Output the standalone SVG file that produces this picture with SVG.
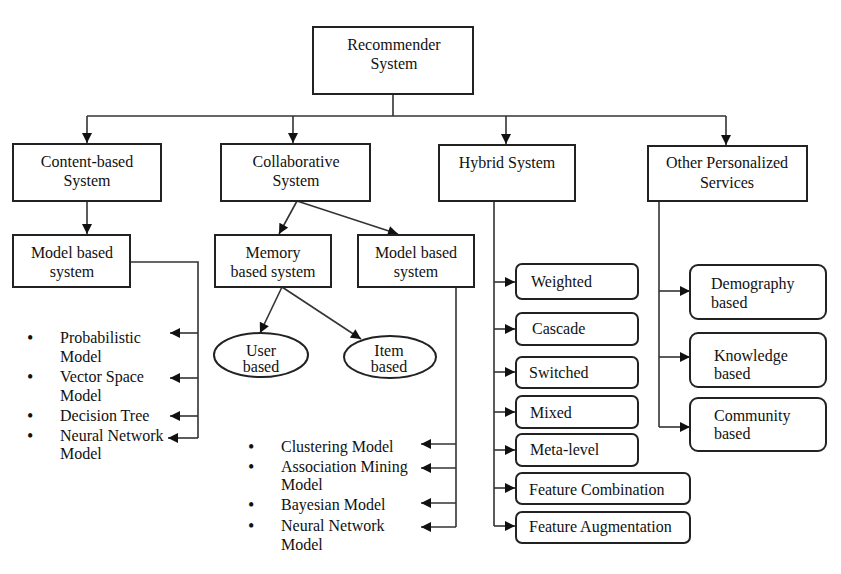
<svg xmlns="http://www.w3.org/2000/svg" width="841" height="574" viewBox="0 0 841 574">
<style>
.box{fill:#fff;stroke:#222;stroke-width:2}
.ln{fill:none;stroke:#333;stroke-width:1.6}
text{font-family:"Liberation Serif","Times New Roman",serif;font-size:16px;fill:#111}
.c{text-anchor:middle}
.b{font-size:18px}
</style>
<defs>
<marker id="ah" viewBox="0 0 10 10" refX="10" refY="5" markerWidth="12" markerHeight="10" markerUnits="userSpaceOnUse" orient="auto">
<path d="M0,0 L10,5 L0,10 z" fill="#111"/>
</marker>
</defs>
<rect width="841" height="574" fill="#fff"/>
<g id="connectors" class="ln">
<path d="M393,94 V116 M87,116 H726"/>
<path d="M87,116 V143" marker-end="url(#ah)"/>
<path d="M293,116 V143" marker-end="url(#ah)"/>
<path d="M506,116 V144" marker-end="url(#ah)"/>
<path d="M726,116 V145" marker-end="url(#ah)"/>
<path d="M87,201 V234" marker-end="url(#ah)"/>
<path d="M297,201 L279,234" marker-end="url(#ah)"/>
<path d="M297,201 L398,234" marker-end="url(#ah)"/>
<path d="M282,287 L260,333" marker-end="url(#ah)"/>
<path d="M282,287 L361,339" marker-end="url(#ah)"/>
<path d="M130,262 H198 V438"/>
<path d="M198,333 H170" marker-end="url(#ah)"/>
<path d="M198,378 H170" marker-end="url(#ah)"/>
<path d="M198,416 H170" marker-end="url(#ah)"/>
<path d="M198,438 H168" marker-end="url(#ah)"/>
<path d="M456,287 V527"/>
<path d="M456,444 H421" marker-end="url(#ah)"/>
<path d="M456,468 H421" marker-end="url(#ah)"/>
<path d="M456,503 H421" marker-end="url(#ah)"/>
<path d="M456,527 H421" marker-end="url(#ah)"/>
<path d="M494,201 V526"/>
<path d="M494,282 H515" marker-end="url(#ah)"/>
<path d="M494,329 H515" marker-end="url(#ah)"/>
<path d="M494,372 H515" marker-end="url(#ah)"/>
<path d="M494,412 H515" marker-end="url(#ah)"/>
<path d="M494,450 H515" marker-end="url(#ah)"/>
<path d="M494,488 H515" marker-end="url(#ah)"/>
<path d="M494,526 H515" marker-end="url(#ah)"/>
<path d="M659,201 V427"/>
<path d="M659,291 H690" marker-end="url(#ah)"/>
<path d="M659,357 H690" marker-end="url(#ah)"/>
<path d="M659,427 H690" marker-end="url(#ah)"/>
</g>
<g id="recommender"><rect class="box" x="313" y="27" width="160" height="67"/><text class="c" x="394" y="50">Recommender</text><text class="c" x="394" y="69">System</text></g>
<g id="content"><rect class="box" x="13" y="144" width="148" height="57"/><text class="c" x="87" y="167">Content-based</text><text class="c" x="87" y="186">System</text></g>
<g id="collab"><rect class="box" x="221" y="144" width="149" height="57"/><text class="c" x="296" y="167">Collaborative</text><text class="c" x="296" y="186">System</text></g>
<g id="hybrid"><rect class="box" x="439" y="145" width="136" height="56"/><text class="c" x="507" y="168">Hybrid System</text></g>
<g id="other"><rect class="box" x="648" y="146" width="159" height="55"/><text class="c" x="727" y="168">Other Personalized</text><text class="c" x="727" y="188">Services</text></g>
<g id="cb-model"><rect class="box" x="13" y="235" width="117" height="52"/><text class="c" x="72" y="258">Model based</text><text class="c" x="72" y="277">system</text></g>
<g id="memory"><rect class="box" x="215" y="235" width="116" height="52"/><text class="c" x="273" y="258">Memory</text><text class="c" x="273" y="277">based system</text></g>
<g id="cf-model"><rect class="box" x="358" y="235" width="116" height="52"/><text class="c" x="416" y="258">Model based</text><text class="c" x="416" y="277">system</text></g>
<g id="user"><ellipse class="box" cx="261" cy="355" rx="47" ry="22"/><text class="c" x="261" y="356">User</text><text class="c" x="261" y="372">based</text></g>
<g id="item"><ellipse class="box" cx="390" cy="357" rx="46" ry="21"/><text class="c" x="389" y="356">Item</text><text class="c" x="389" y="372">based</text></g>
<g id="cb-list">
<text class="b" x="27" y="344">•</text><text x="60" y="343">Probabilistic</text><text x="60" y="362">Model</text>
<text class="b" x="27" y="383">•</text><text x="60" y="382">Vector Space</text><text x="60" y="401">Model</text>
<text class="b" x="27" y="422">•</text><text x="60" y="421">Decision Tree</text>
<text class="b" x="27" y="442">•</text><text x="60" y="441">Neural Network</text><text x="60" y="459">Model</text>
</g>
<g id="cf-list">
<text class="b" x="248" y="453">•</text><text x="281" y="452">Clustering Model</text>
<text class="b" x="248" y="473">•</text><text x="281" y="472">Association Mining</text><text x="281" y="490">Model</text>
<text class="b" x="248" y="511">•</text><text x="281" y="510">Bayesian Model</text>
<text class="b" x="248" y="532">•</text><text x="281" y="531">Neural Network</text><text x="281" y="550">Model</text>
</g>
<g id="weighted"><rect class="box" x="516" y="264" width="122" height="35" rx="6"/><text x="531" y="287">Weighted</text></g>
<g id="cascade"><rect class="box" x="516" y="313" width="122" height="32" rx="6"/><text x="532" y="334">Cascade</text></g>
<g id="switched"><rect class="box" x="516" y="357" width="122" height="31" rx="6"/><text x="529" y="378">Switched</text></g>
<g id="mixed"><rect class="box" x="516" y="396" width="122" height="32" rx="6"/><text x="530" y="418">Mixed</text></g>
<g id="meta"><rect class="box" x="516" y="434" width="122" height="32" rx="6"/><text x="530" y="455">Meta-level</text></g>
<g id="featcomb"><rect class="box" x="516" y="473" width="174" height="31" rx="6"/><text x="529" y="495">Feature Combination</text></g>
<g id="feataug"><rect class="box" x="516" y="512" width="174" height="31" rx="6"/><text x="529" y="532">Feature Augmentation</text></g>
<g id="demography"><rect class="box" x="690" y="265" width="136" height="54" rx="8"/><text x="711" y="289">Demography</text><text x="711" y="308">based</text></g>
<g id="knowledge"><rect class="box" x="690" y="333" width="136" height="54" rx="8"/><text x="714" y="361">Knowledge</text><text x="714" y="379">based</text></g>
<g id="community"><rect class="box" x="690" y="398" width="136" height="53" rx="8"/><text x="714" y="421">Community</text><text x="714" y="439">based</text></g>
</svg>
